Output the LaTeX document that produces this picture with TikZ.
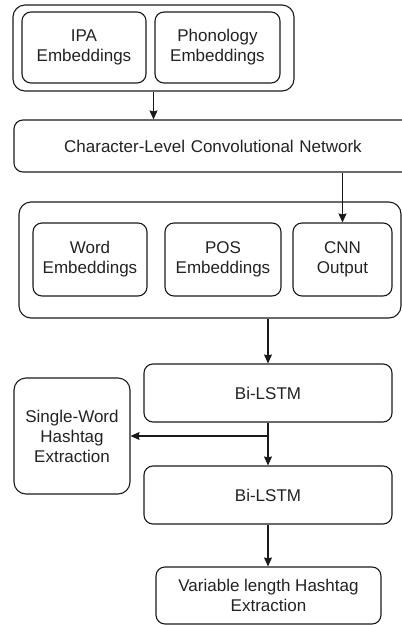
\documentclass[tikz,border=0pt]{standalone}
\usepackage{fontspec}
\setmainfont{Liberation Sans}
\usetikzlibrary{arrows.meta}
\definecolor{txt}{HTML}{222222}
\definecolor{ln}{HTML}{1A1A1A}
\begin{document}
\begin{tikzpicture}[x=1pt,y=-1pt,
  box/.style={draw=ln,line width=1.1pt,rounded corners=9pt,align=center,text=txt,
    font=\fontsize{17}{20}\selectfont,inner sep=0pt},
  grp/.style={draw=ln,line width=1.1pt,rounded corners=12pt,inner sep=0pt},
  arr/.style={draw=ln,line width=1.1pt,-{Stealth[length=9pt,width=8pt,inset=1pt]}}]
\useasboundingbox (0,0) rectangle (402,625);
% top group
\node[grp,minimum width=281pt,minimum height=86pt] (g1) at (153.5,48) {};
\node[box,minimum width=124pt,minimum height=71pt] (ipa) at (84,47.5) {IPA\\Embeddings};
\node[box,minimum width=125pt,minimum height=71pt] (pho) at (217.5,47.5) {Phonology\\Embeddings};
% char CNN
\node[box,minimum width=398pt,minimum height=52pt,text width=300pt] (char) at (213,146) {Character-Level Convolutional Network};
% middle group
\node[grp,minimum width=382pt,minimum height=116pt] (g2) at (210,260) {};
\node[box,minimum width=114pt,minimum height=73pt] (word) at (90,259.5) {Word\\Embeddings};
\node[box,minimum width=116pt,minimum height=73pt] (pos) at (223,259.5) {POS\\Embeddings};
\node[box,minimum width=99pt,minimum height=73pt] (cnn) at (342.5,259.5) {CNN\\Output};
% LSTMs
\node[box,minimum width=248pt,minimum height=58pt] (l1) at (268,393) {Bi-LSTM};
\node[box,minimum width=116pt,minimum height=116pt,rounded corners=12pt] (single) at (72,436) {Single-Word\\Hashtag\\Extraction};
\node[box,minimum width=248pt,minimum height=58pt] (l2) at (268,495) {Bi-LSTM};
\node[box,minimum width=225pt,minimum height=57pt] (var) at (268.5,595.5) {Variable length Hashtag\\Extraction};
% connectors
\draw[arr] (g1.south) -- (g1.south |- char.north);
\draw[arr] (cnn.north |- char.south) -- (cnn.north);
\draw[arr] (l1.north |- g2.south) -- (l1.north);
\draw[arr] (l1.south) -- (l2.north);
\coordinate (br) at (l1.south |- single.east);
\draw[arr] (br) -- (single.east);
\draw[arr] (l2.south) -- (l2.south |- var.north);
\end{tikzpicture}
\end{document}
